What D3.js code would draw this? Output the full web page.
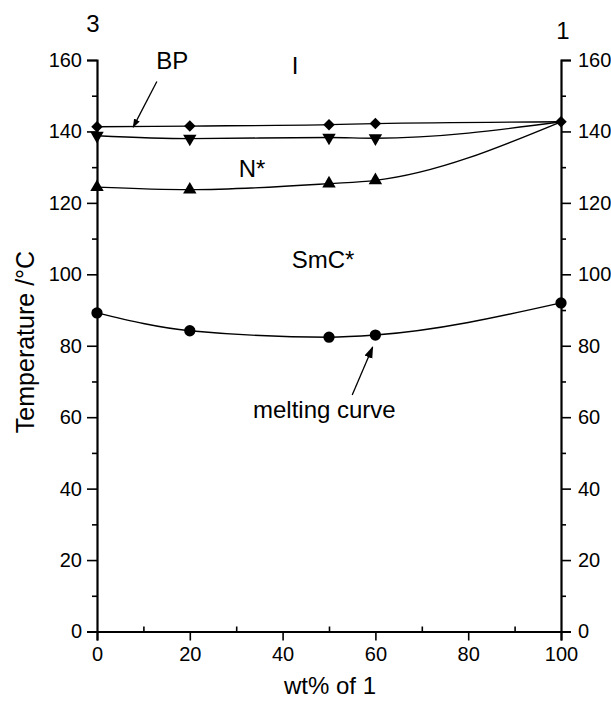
<!DOCTYPE html>
<html>
<head>
<meta charset="utf-8">
<script src="https://cdn.jsdelivr.net/npm/d3@7"></script>
<style>
  body { margin: 0; background: #fff; }
  text { font-family: "Liberation Sans", Arial, sans-serif; fill: #000; }
</style>
</head>
<body>
<div id="chart"></div>
<script>

var svgWidth = 611;
var svgHeight = 702;

// wt% of 1 for each measured mixture
var compositions = [0, 20, 50, 60, 100];

// transition temperatures (deg C)
var bpToIso = [141.3, 141.5, 141.9, 142.2, 142.7];     // diamonds
var nToBp = [138.8, 138.0, 138.3, 138.1, 142.7];       // down triangles
var smcToN = [124.4, 123.7, 125.4, 126.3, 142.7];      // up triangles
var melting = [89.2, 84.2, 82.4, 83.0, 92.0];          // circles

var xTicks = [0, 20, 40, 60, 80, 100];
var yTicks = [0, 20, 40, 60, 80, 100, 120, 140, 160];

// phase labels, in data units
var phaseLabels = [
  { text: 'BP', x: 16.2, y: 157.6 },
  { text: 'I', x: 42.7, y: 156.0 },
  { text: 'N*', x: 33.4, y: 127.3 },
  { text: 'SmC*', x: 48.7, y: 101.8 },
  { text: 'melting curve', x: 49.0, y: 59.8 }
];

var arrows = [
  { x1: 12.9, y1: 154.0, x2: 7.8, y2: 141.2, head: 9 },
  { x1: 55.0, y1: 66.2, x2: 59.4, y2: 79.6, head: 12 }
];

var margin = { top: 60, right: 50, bottom: 70.5, left: 97 };
var width = 464;
var height = svgHeight - margin.top - margin.bottom;

var svg = d3.select('#chart')
  .append('svg')
  .attr('width', svgWidth)
  .attr('height', svgHeight);

var chartGroup = svg.append('g')
  .attr('transform', `translate(${margin.left}, ${margin.top})`);

var xScale = d3.scaleLinear().domain([0, 100]).range([0, width]);
var yScale = d3.scaleLinear().domain([0, 160]).range([height, 0]);

// minor ticks first, majors drawn over them
var minorY = [10, 30, 50, 70, 90, 110, 130, 150];
var xMinor = d3.axisTop(xScale).tickValues([10, 30, 50, 70, 90]).tickSize(5).tickFormat('');
var yMinorL = d3.axisLeft(yScale).tickValues(minorY).tickSize(5).tickFormat('');
var yMinorR = d3.axisRight(yScale).tickValues(minorY).tickSize(5).tickFormat('');

chartGroup.append('g')
  .classed('x-minor', true)
  .attr('transform', `translate(0, ${height})`)
  .call(xMinor);
chartGroup.append('g').classed('y-minor', true).call(yMinorL);
chartGroup.append('g')
  .classed('y-minor', true)
  .attr('transform', `translate(${width}, 0)`)
  .call(yMinorR);

var bottomAxis = d3.axisBottom(xScale).tickValues(xTicks).tickSize(9).tickPadding(6);
var leftAxis = d3.axisLeft(yScale).tickValues(yTicks).tickSize(10).tickPadding(5);
var rightAxis = d3.axisRight(yScale).tickValues(yTicks).tickSize(10).tickPadding(7);

chartGroup.append('g')
  .classed('x-axis', true)
  .attr('transform', `translate(0, ${height})`)
  .call(bottomAxis);

chartGroup.append('g')
  .classed('y-axis', true)
  .call(leftAxis);

chartGroup.append('g')
  .classed('y-axis', true)
  .attr('transform', `translate(${width}, 0)`)
  .call(rightAxis);

chartGroup.selectAll('.domain')
  .attr('stroke', '#000')
  .attr('stroke-width', 2.2);
chartGroup.selectAll('.tick line')
  .attr('stroke', '#000')
  .attr('stroke-width', 1.6);
chartGroup.selectAll('.tick text')
  .attr('font-size', '20px')
  .style('font-family', '"Liberation Sans", Arial, sans-serif');

// the minor axis domains would duplicate the main line
chartGroup.selectAll('.x-minor .domain, .y-minor .domain').remove();

// transition curves
var line = d3.line()
  .x(d => xScale(d[0]))
  .y(d => yScale(d[1]))
  .curve(d3.curveMonotoneX);

var seriesList = [
  { values: bpToIso, symbol: d3.symbolSquare, size: 66, rotate: 45 },
  { values: nToBp, symbol: d3.symbolTriangle, size: 78, rotate: 180 },
  { values: smcToN, symbol: d3.symbolTriangle, size: 78, rotate: 0 },
  { values: melting, symbol: d3.symbolCircle, size: 100, rotate: 0 }
];

seriesList.forEach(function(s) {
  var pts = compositions.map((c, i) => [c, s.values[i]]);

  chartGroup.append('path')
    .datum(pts)
    .attr('fill', 'none')
    .attr('stroke', '#000')
    .attr('stroke-width', 1.4)
    .attr('d', line);

  // at 100 wt% all three upper curves share one diamond point
  var markPts = (s.values === nToBp || s.values === smcToN) ? pts.slice(0, 4) : pts;

  chartGroup.selectAll(null)
    .data(markPts)
    .enter()
    .append('path')
    .attr('d', d3.symbol().type(s.symbol).size(s.size))
    .attr('transform', d => `translate(${xScale(d[0])}, ${yScale(d[1])}) rotate(${s.rotate})`)
    .attr('fill', '#000');
});

// arrows
var defs = svg.append('defs');
arrows.forEach(function(a, i) {
  defs.append('marker')
    .attr('id', 'head' + i)
    .attr('viewBox', '0 0 10 10')
    .attr('refX', 9)
    .attr('refY', 5)
    .attr('markerWidth', a.head)
    .attr('markerHeight', a.head)
    .attr('markerUnits', 'userSpaceOnUse')
    .attr('orient', 'auto')
    .append('path')
    .attr('d', 'M0,1.5 L10,5 L0,8.5 Z')
    .attr('fill', '#000');
});

chartGroup.selectAll('.arrow')
  .data(arrows)
  .enter()
  .append('line')
  .classed('arrow', true)
  .attr('x1', d => xScale(d.x1))
  .attr('y1', d => yScale(d.y1))
  .attr('x2', d => xScale(d.x2))
  .attr('y2', d => yScale(d.y2))
  .attr('stroke', '#000')
  .attr('stroke-width', 1.3)
  .attr('marker-end', (d, i) => `url(#head${i})`);

chartGroup.selectAll('.phase')
  .data(phaseLabels)
  .enter()
  .append('text')
  .classed('phase', true)
  .attr('x', d => xScale(d.x))
  .attr('y', d => yScale(d.y))
  .attr('text-anchor', 'middle')
  .attr('font-size', '24px')
  .text(d => d.text);

// component numbers above each axis
svg.append('text')
  .attr('x', 93)
  .attr('y', 32)
  .attr('text-anchor', 'middle')
  .attr('font-size', '24px')
  .text('3');

svg.append('text')
  .attr('x', 563)
  .attr('y', 39)
  .attr('text-anchor', 'middle')
  .attr('font-size', '24px')
  .text('1');

// axis titles
svg.append('text')
  .attr('transform', 'translate(34, 342) rotate(-90)')
  .attr('text-anchor', 'middle')
  .attr('font-size', '25px')
  .text('Temperature /°C');

svg.append('text')
  .attr('x', 330)
  .attr('y', 694)
  .attr('text-anchor', 'middle')
  .attr('font-size', '24px')
  .text('wt% of 1');

</script>
</body>
</html>
